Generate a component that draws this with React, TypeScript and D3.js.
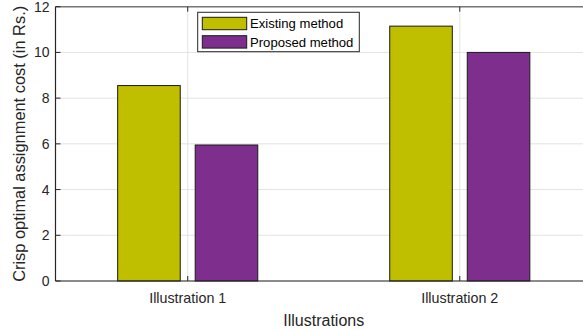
import React from "react";
import * as d3 from "d3";

const categories = ["Illustration 1", "Illustration 2"];
const seriesNames = ["Existing method", "Proposed method"];
const existing = [8.55, 11.15];
const proposed = [5.95, 10.0];
const yTicks = [0, 2, 4, 6, 8, 10, 12];

const colors = ["#BFBF00", "#7E2F8E"];

const W = 583;
const H = 331;
const margin = { left: 55.5, top: 6.7, right: 592, bottom: 281 };

export default function App() {
  const x = d3.scaleLinear().domain([0.514, 2.486]).range([margin.left, margin.right]);
  const y = d3.scaleLinear().domain([0, 12]).range([margin.bottom, margin.top]);
  const series = [existing, proposed];
  const barW = 0.23;
  const offsets = [-0.1425, 0.1425];
  const font = "'Liberation Sans', Arial, Helvetica, sans-serif";
  const axisColor = "#262626";
  const gridColor = "#e3e3e3";

  return (
    <svg width={W} height={H} style={{ position: "absolute", left: 0, top: 0, background: "#fff" }}>
      <defs>
        <clipPath id="plotArea">
          <rect x={0} y={0} width={W} height={H} />
        </clipPath>
      </defs>
      <g clipPath="url(#plotArea)">
        {/* grid */}
        {yTicks.map((t) => (
          <line key={"gy" + t} x1={x.range()[0]} x2={x.range()[1]} y1={y(t)} y2={y(t)} stroke={gridColor} strokeWidth={1} />
        ))}
        {categories.map((c, i) => (
          <line key={"gx" + c} x1={x(i + 1)} x2={x(i + 1)} y1={y(0)} y2={y(12)} stroke={gridColor} strokeWidth={1} />
        ))}
        {/* bars */}
        {series.map((vals, s) =>
          vals.map((v, i) => {
            const cx = x(i + 1 + offsets[s]);
            const w = x(barW) - x(0);
            return (
              <rect
                key={`b${s}-${i}`}
                x={cx - w / 2}
                y={y(v)}
                width={w}
                height={y(0) - y(v)}
                fill={colors[s]}
                stroke="#1a1a1a"
                strokeWidth={1}
              />
            );
          })
        )}
        {/* axes box */}
        <line x1={margin.left} x2={margin.right} y1={y(0)} y2={y(0)} stroke={axisColor} strokeWidth={1.2} />
        <line x1={margin.left} x2={margin.right} y1={y(12)} y2={y(12)} stroke="#777" strokeWidth={1.5} />
        <line x1={margin.left} x2={margin.left} y1={y(0)} y2={y(12)} stroke={axisColor} strokeWidth={1.2} />
        {yTicks.map((t) => (
          <line key={"ty" + t} x1={margin.left} x2={margin.left + 5} y1={y(t)} y2={y(t)} stroke={axisColor} strokeWidth={1} />
        ))}
        {categories.map((c, i) => (
          <g key={"tx" + c}>
            <line x1={x(i + 1)} x2={x(i + 1)} y1={y(0)} y2={y(0) - 5} stroke={axisColor} strokeWidth={1} />
            <line x1={x(i + 1)} x2={x(i + 1)} y1={y(12)} y2={y(12) + 5} stroke={axisColor} strokeWidth={1} />
          </g>
        ))}
        {/* tick labels */}
        {yTicks.map((t) => (
          <text key={"ly" + t} x={49.5} y={y(t)} dy="0.36em" textAnchor="end" fontFamily={font} fontSize={14} fill={axisColor}>
            {t}
          </text>
        ))}
        {categories.map((c, i) => (
          <text key={"lx" + c} x={x(i + 1)} y={298} dy="0.36em" textAnchor="middle" fontFamily={font} fontSize={14.3} fill={axisColor}>
            {c}
          </text>
        ))}
        {/* axis titles */}
        <text x={(margin.left + margin.right) / 2} y={320} dy="0.36em" textAnchor="middle" fontFamily={font} fontSize={16} fill={axisColor}>
          Illustrations
        </text>
        <text
          transform={`translate(25, ${(y(0) + y(12)) / 2}) rotate(-90)`}
          textAnchor="middle"
          fontFamily={font}
          fontSize={16.4}
          fill={axisColor}
        >
          Crisp optimal assignment cost (in Rs.)
        </text>
        {/* legend */}
        <g>
          <rect x={197.7} y={12.3} width={161.6} height={39.4} fill="#fff" stroke="#262626" strokeWidth={1} />
          {seriesNames.map((n, s) => (
            <g key={"lg" + n}>
              <rect x={202.3} y={17.3 + s * 18.4} width={44.4} height={12.4} fill={colors[s]} stroke="#1a1a1a" strokeWidth={1} />
              <text x={250} y={23.7 + s * 18.4} dy="0.36em" fontFamily={font} fontSize={13.1} fill="#000">
                {n}
              </text>
            </g>
          ))}
        </g>
      </g>
    </svg>
  );
}
